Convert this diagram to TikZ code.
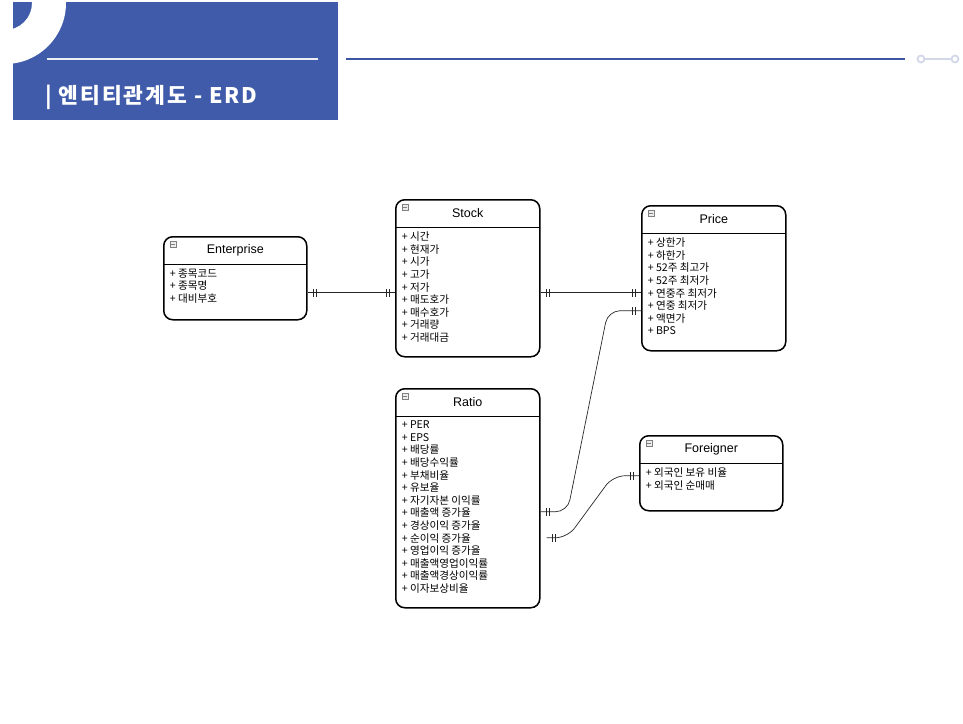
\documentclass[tikz,border=0pt]{standalone}
\usepackage{fontspec}
\setmainfont{Liberation Sans}
\newfontfamily\kr{Noto Sans CJK KR}
\usepackage{tikz}
\usetikzlibrary{positioning,calc,decorations.markings}
\definecolor{hdrblue}{HTML}{3F5BA9}
\definecolor{rulegray}{HTML}{D3D8E8}
% one entity box: name, top-left, width, height, title, attributes
\newcommand{\erdentity}[6]{%
  \node[entbox, minimum width=#3, minimum height=#4] (#1) at #2 {};
  \node[enthead, minimum width=#3] (#1-h) at (#1.north) {#5};
  \draw[line width=1.3pt] (#1-h.south west) -- (#1-h.south east);
  \node[entattr] (#1-a) at ([shift={(6pt,-4pt)}]#1-h.south west) {#6};
  \draw[enticon] ([shift={(7pt,-5pt)}]#1.north west) rectangle ++(6pt,-6pt);
  \draw[gray, line width=0.6pt] ([shift={(8.3pt,-8pt)}]#1.north west) -- ++(3.4pt,0);
}

\begin{document}
\begin{tikzpicture}[x=1pt, y=-1pt, semithick]
  \tikzstyle{entbox}=[draw=black, line width=1.5pt, rounded corners=9pt,
    anchor=north west, inner sep=0pt, fill=white]
  \tikzstyle{enthead}=[anchor=north, minimum height=28pt, inner sep=0pt,
    font=\fontsize{12.5}{14}\selectfont]
  \tikzstyle{entattr}=[anchor=north west, align=left, inner sep=0pt,
    font=\kr\fontsize{10.6}{12.6}\selectfont]
  \tikzstyle{enticon}=[draw=gray, fill=gray!15, line width=0.5pt]
  \tikzstyle{oneone}=[draw=black!85, line width=0.7pt, rounded corners=12pt,
    postaction={decorate}, decoration={markings,
      mark=at position 6pt with {\draw[sharp corners] (0,-4pt) -- (0,4pt);},
      mark=at position 9pt with {\draw[sharp corners] (0,-4pt) -- (0,4pt);},
      mark=at position -6pt with {\draw[sharp corners] (0,-4pt) -- (0,4pt);},
      mark=at position -9pt with {\draw[sharp corners] (0,-4pt) -- (0,4pt);}}]
\useasboundingbox (0,0) rectangle (963,723);

% header
\fill[hdrblue] (13,2) rectangle (338,120);
\fill[white, even odd rule] (5,3) circle[radius=61] (5,3) circle[radius=27];
\draw[white!90!hdrblue, line width=2pt] (47,59) -- (318,59);
\node[anchor=base west, inner sep=0pt, text=white,
  font=\kr\bfseries\fontsize{21.5}{24}\selectfont\addfontfeatures{LetterSpace=9}]
  (title) at (45,103) {| 엔티티관계도 - ERD};
\draw[hdrblue!95!black, line width=2.6pt] (346,59) -- (905,59);
\node[circle, draw=rulegray, line width=1.8pt, minimum size=7pt, inner sep=0pt]
  (dot1) at (921,59) {};
\node[circle, draw=rulegray, line width=1.8pt, minimum size=7pt, inner sep=0pt]
  (dot2) at (955,59) {};
\draw[rulegray, line width=1.8pt] (dot1) -- (dot2);

% entities
\erdentity{ent}{(163,236)}{143pt}{83pt}{Enterprise}
  {+ 종목코드\\+ 종목명\\+ 대비부호}
\erdentity{stock}{(395,199)}{144pt}{157pt}{Stock}
  {+ 시간\\+ 현재가\\+ 시가\\+ 고가\\+ 저가\\+ 매도호가\\+ 매수호가\\+ 거래량\\+ 거래대금}
\erdentity{price}{(641,205)}{144pt}{145pt}{Price}
  {+ 상한가\\+ 하한가\\+ 52주 최고가\\+ 52주 최저가\\+ 연중주 최저가\\+ 연중 최저가\\+ 액면가\\+ BPS}
\erdentity{ratio}{(395,388)}{144pt}{219pt}{Ratio}
  {+ PER\\+ EPS\\+ 배당률\\+ 배당수익률\\+ 부채비율\\+ 유보율\\+ 자기자본 이익률\\+ 매출액 증가율\\+ 경상이익 증가율\\+ 순이익 증가율\\+ 영업이익 증가율\\+ 매출액영업이익률\\+ 매출액경상이익률\\+ 이자보상비율}
\erdentity{frgn}{(639,435)}{143pt}{75pt}{Foreigner}
  {+ 외국인 보유 비율\\+ 외국인 순매매}

% relations
\draw[oneone] ([yshift=-14.5pt]ent.east) -- ([yshift=-14.5pt]stock.west);
\draw[oneone] ([yshift=-14.5pt]stock.east) -- ([yshift=-14.5pt]price.west);
\draw[oneone] ([yshift=-13.5pt]ratio.east) -- ++(27,0)
  -- ([xshift=-33pt,yshift=-32.5pt]price.west) -- ([yshift=-32.5pt]price.west);
\draw[oneone] ([xshift=6pt,yshift=-39.5pt]ratio.east) -- ++(21,0)
  -- ([xshift=-26pt,yshift=-2.5pt]frgn.west) -- ([yshift=-2.5pt]frgn.west);
\end{tikzpicture}
\end{document}
